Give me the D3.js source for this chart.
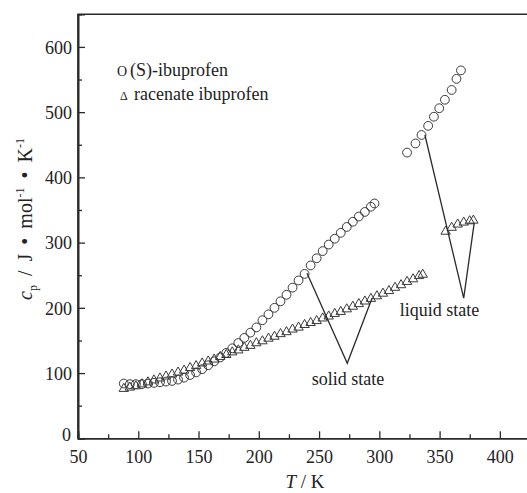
<!DOCTYPE html>
<html><head><meta charset="utf-8">
<script src="https://cdn.jsdelivr.net/npm/d3@7"></script>
<style>
html,body{margin:0;padding:0;background:#fff;}
</style></head>
<body><svg id="c" width="527" height="493"></svg>
<script>
// ---- data ----
const sSolidT  = [88,93,98,103,108,113,118,123,128,133,138,143,148,153,158,163,168,173,178,183,188,193,198,203,208,213,218,223,228,233,238,243,248,253,258,263,268,273,278,283,288,293,296];
const sSolidCp = [84,83,83,83,84,85,86,87,88,90,93,97,101,106,112,118,124,131,138,146,154,162,170,181,190,200,210,220,231,242,252,265,276,287,297,306,315,324,332,340,347,355,360];
const sLiqT  = [323,330,335,340.5,345.3,349.7,354.4,360,364,367.7];
const sLiqCp = [438,452,465,479,493,506,519,534,551,564];
const rSolidT  = [88,93,98,103,108,113,118,123,128,133,138,143,148,153,158,163,168,173,178,183,188,193,198,203,208,213,218,223,228,233,238,243,248,253,258,263,268,273,278,283,288,293,298,303,308,313,318,323,328,333,336];
const rSolidCp = [76,78,80,83,86,89,92,95,98,101,104,108,111,115,118,121,125,128,132,135,139,142,146,149,153,156,160,163,167,170,174,177,180,184,187,191,194,198,202,206,210,214,218,222,226,231,235,240,244,249,251];
const rLiqT  = [355,360,365,370,375,378];
const rLiqCp = [317,323,328,331,333,334];
const xTicks = [50,100,150,200,250,300,350,400];
const yTicks = [0,100,200,300,400,500,600];
const legendLabels = ["(S)-ibuprofen","racenate ibuprofen"];
const solidPointer  = [[240,253],[273.4,115],[294,215]];
const liquidPointer = [[337.8,465],[370,215],[378.7,330]];

// ---- chart ----
const FONT = "'Liberation Serif', Tinos, 'Times New Roman', 'DejaVu Serif', serif";
const svg = d3.select("#c").attr("font-family",FONT);
const x = d3.scaleLinear().domain([50,425]).range([78,530]);
const y = d3.scaleLinear().domain([0,650]).range([438.3,14.3]);
const ink = "#2a2a2a";

// frame
svg.append("path").attr("d",`M${x(50)},${y(0)}V${y(650)}H${x(425)}`)
  .attr("fill","none").attr("stroke",ink).attr("stroke-width",1.6);

const xAxis = d3.axisBottom(x).tickValues(d3.range(75,425,50)).tickSize(-4).tickFormat("");
svg.append("g").attr("transform",`translate(0,${y(0)})`).call(xAxis);
const xAxisM = d3.axisBottom(x).tickValues(xTicks).tickSize(-7).tickPadding(14);
const gx = svg.append("g").attr("transform",`translate(0,${y(0)})`).call(xAxisM);
const yAxisMin = d3.axisLeft(y).tickValues(d3.range(50,650,100)).tickSize(-4).tickFormat("");
svg.append("g").attr("transform",`translate(${x(50)},0)`).call(yAxisMin);
const yAxisM = d3.axisLeft(y).tickValues(yTicks).tickSize(-7).tickPadding(6);
const gy = svg.append("g").attr("transform",`translate(${x(50)},0)`).call(yAxisM);
svg.selectAll("g").attr("font-family",FONT);
svg.selectAll(".domain").attr("stroke",ink).attr("stroke-width",1.6);
svg.selectAll(".tick line").attr("stroke",ink).attr("stroke-width",1.3);
svg.selectAll(".tick text").attr("font-size",18).attr("fill","#222");
gx.selectAll(".tick text").attr("dy","0.6em");
gy.selectAll(".tick text").attr("dy","0.35em");
gy.selectAll(".tick").filter(d=>d===0).select("text").attr("dy","0.1em").attr("x",-7);

// markers
const pairs = (T,C) => T.map((t,i)=>[t,C[i]]);
const drawCircles = data => svg.append("g").selectAll("circle").data(data).join("circle")
  .attr("cx",d=>x(d[0])).attr("cy",d=>y(d[1])).attr("r",4.4)
  .attr("fill","none").attr("stroke","#3a3a3a").attr("stroke-width",1);
const tri = d3.symbol().type(d3.symbolTriangle).size(38);
const drawTriangles = data => svg.append("g").selectAll("path").data(data).join("path")
  .attr("transform",d=>`translate(${x(d[0])},${y(d[1])})`).attr("d",tri)
  .attr("fill","none").attr("stroke","#3a3a3a").attr("stroke-width",1);
drawCircles(pairs(sSolidT,sSolidCp));
drawCircles(pairs(sLiqT,sLiqCp));
drawTriangles(pairs(rSolidT,rSolidCp));
drawTriangles(pairs(rLiqT,rLiqCp));

// pointers
const line = d3.line().x(d=>x(d[0])).y(d=>y(d[1]));
[solidPointer,liquidPointer].forEach(p=>svg.append("path").attr("d",line(p))
  .attr("fill","none").attr("stroke",ink).attr("stroke-width",1.3));
const T = (sel)=>sel.attr("font-family",FONT).attr("fill","#222");
T(svg.append("text").attr("x",x(244)).attr("y",y(82)).attr("font-size",18).text("solid state"));
T(svg.append("text").attr("x",x(317)).attr("y",y(187)).attr("font-size",18).text("liquid state"));

// legend
T(svg.append("text").attr("x",117).attr("y",76).attr("font-size",14).text("O"));
T(svg.append("text").attr("x",130).attr("y",76).attr("font-size",18).text(legendLabels[0]));
T(svg.append("text").attr("x",120).attr("y",100).attr("font-size",12).text("Δ"));
T(svg.append("text").attr("x",134).attr("y",100).attr("font-size",18).text(legendLabels[1]));

// axis titles
const xt = T(svg.append("text").attr("x",305).attr("y",488).attr("text-anchor","middle").attr("font-size",19));
xt.append("tspan").attr("font-style","italic").text("T");
xt.append("tspan").text(" / K");

const yt = T(svg.append("text").attr("transform","translate(32,219) rotate(-90)").attr("text-anchor","middle")
  .attr("font-size",20).attr("word-spacing",4));
yt.append("tspan").attr("font-style","italic").text("c");
yt.append("tspan").attr("font-size",12).attr("dy",5).text("p");
yt.append("tspan").attr("dy",-5).text(" / J • mol");
yt.append("tspan").attr("font-size",12).attr("dy",-8).text("-1");
yt.append("tspan").attr("dy",8).text(" • K");
yt.append("tspan").attr("font-size",12).attr("dy",-8).text("-1");
</script></body></html>
